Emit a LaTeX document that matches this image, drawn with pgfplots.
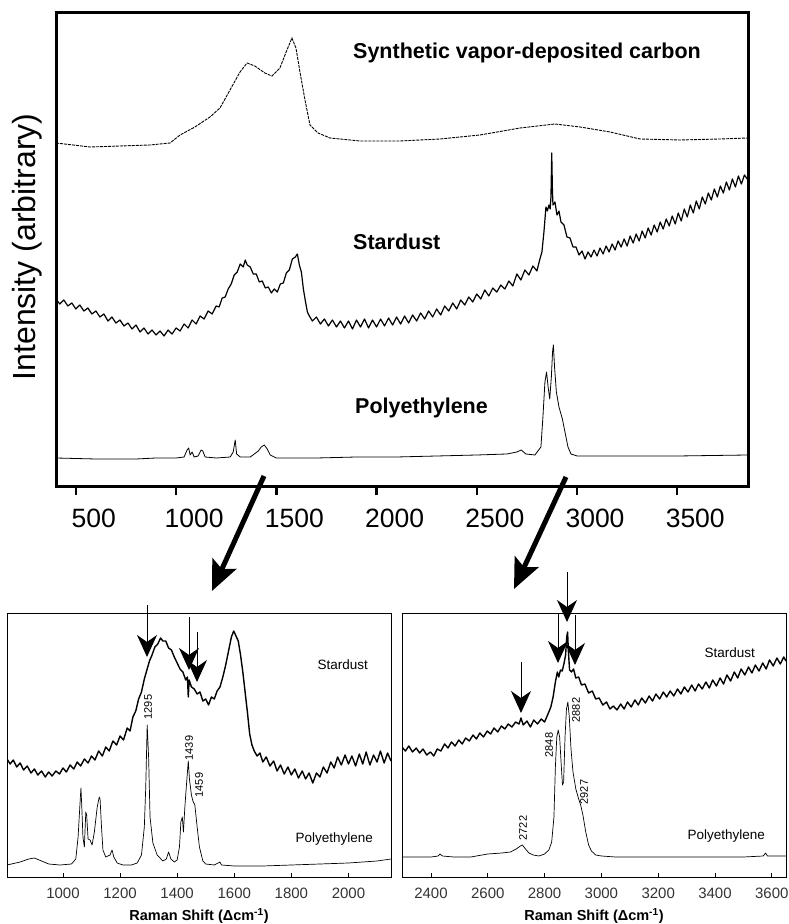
\documentclass[border=0pt]{standalone}
\usepackage{pgfplots}
\pgfplotsset{compat=1.18}
\usepackage{fontspec}
\setmainfont{Liberation Sans}
\usetikzlibrary{arrows.meta}
\begin{document}
\begin{tikzpicture}[x=1pt,y=1pt]
\path[use as bounding box] (0,0) rectangle (789,924);
% ---------------- top panel ----------------
\begin{axis}[
  at={(56pt,437pt)}, anchor=south west,
  scale only axis, width=692pt, height=474pt,
  xmin=401, xmax=3853, ymin=0, ymax=474,
  axis line style={line width=3pt},
  xtick={500,1000,...,3500}, ytick=\empty,
  xtick pos=left, tick align=outside, major tick length=8pt,
  xtick style={line width=2.5pt, black},
  xticklabel style={font=\fontsize{26.5}{30}\selectfont, inner sep=0pt, anchor=north, yshift=-14pt, xshift=18pt},
  /pgf/number format/assume math mode=true,
  /pgf/number format/1000 sep={},
]
% synthetic vapor-deposited carbon
\addplot[black, line width=0.9pt, dash pattern=on 3pt off 1pt, no marks] coordinates {
(401,344) (571,340) (720,341) (870,342) (970,344) (1020,352) (1094,360) (1169,370) (1219,379) (1269,397) (1319,415) (1354,424) (1393,421) (1443,414) (1478,411) (1518,419) (1553,437) (1578,449) (1598,439) (1618,415) (1643,387) (1668,362) (1708,354) (1768,349) (1918,346) (2117,346) (2317,348) (2516,352) (2716,359) (2890,363) (3015,360) (3165,355) (3314,348) (3514,347) (3713,348) (3853,349)};
% stardust
\addplot[black, line width=1.2pt, line join=round, no marks] coordinates {
(401,188) (420,183) (440,187) (460,181) (480,184) (500,178) (520,182) (540,176) (560,179) (580,173) (600,176) (620,170) (640,173) (660,166) (680,170) (700,164) (720,167) (740,161) (760,164) (780,158) (800,162) (820,155) (840,159) (860,153) (880,157) (900,152) (920,156) (940,151) (960,157) (980,153) (1000,159) (1020,156) (1040,163) (1060,159) (1080,167) (1100,163) (1120,171) (1140,168) (1160,176) (1180,173) (1200,181) (1215,180) (1230,189) (1245,190) (1260,198) (1275,203) (1290,212) (1305,215) (1320,223) (1335,220) (1345,227) (1355,222) (1370,220) (1385,213) (1400,213) (1415,205) (1430,206) (1445,199) (1460,200) (1475,194) (1490,198) (1505,195) (1520,203) (1535,204) (1550,214) (1565,217) (1580,228) (1595,230) (1605,233) (1615,222) (1625,215) (1635,198) (1645,186) (1655,175) (1665,171) (1680,166) (1700,170) (1720,163) (1740,168) (1760,161) (1780,167) (1800,160) (1820,166) (1840,159) (1860,166) (1880,158) (1900,167) (1920,160) (1940,168) (1960,159) (1980,167) (2000,160) (2020,168) (2040,161) (2060,169) (2080,162) (2100,170) (2120,163) (2140,171) (2160,164) (2180,172) (2200,166) (2220,174) (2240,168) (2260,176) (2280,170) (2300,178) (2320,172) (2340,181) (2360,176) (2380,184) (2400,178) (2420,187) (2440,182) (2460,190) (2480,185) (2500,193) (2520,188) (2540,197) (2560,191) (2580,199) (2600,195) (2620,202) (2640,198) (2660,206) (2680,201) (2700,213) (2720,207) (2740,217) (2760,212) (2780,221) (2800,216) (2815,228) (2825,235) (2835,255) (2845,280) (2852,276) (2860,282) (2866,278) (2870,290) (2874,334) (2877,300) (2880,282) (2890,285) (2900,272) (2910,276) (2920,265) (2935,262) (2950,250) (2965,249) (2980,240) (2995,240) (3010,232) (3025,236) (3040,228) (3055,235) (3070,230) (3085,237) (3100,231) (3115,239) (3130,233) (3145,241) (3160,235) (3175,243) (3190,237) (3205,246) (3220,240) (3235,248) (3250,241) (3265,251) (3280,244) (3295,253) (3310,246) (3325,256) (3340,249) (3355,259) (3370,252) (3385,262) (3400,255) (3415,265) (3430,258) (3445,268) (3460,261) (3475,271) (3490,263) (3505,274) (3520,266) (3535,278) (3550,270) (3565,282) (3580,274) (3595,286) (3610,278) (3625,290) (3640,283) (3655,294) (3670,287) (3685,298) (3700,290) (3715,301) (3730,294) (3745,305) (3760,297) (3775,308) (3790,300) (3805,311) (3820,303) (3835,312) (3853,307)};
% polyethylene
\addplot[black, line width=0.8pt, line join=round, no marks] coordinates {
(401,29) (600,28) (800,28) (900,29) (1000,29) (1040,30) (1055,37) (1063,39) (1070,32) (1080,35) (1090,30) (1110,31) (1125,37) (1133,36) (1145,30) (1200,29) (1270,30) (1285,35) (1295,47) (1302,33) (1320,30) (1370,30) (1390,33) (1410,36) (1425,40) (1440,42) (1455,38) (1470,32) (1500,29) (1700,29) (1900,30) (2100,30) (2300,31) (2500,32) (2650,33) (2700,35) (2722,37) (2745,33) (2790,32) (2820,40) (2830,70) (2840,105) (2848,115) (2856,100) (2864,88) (2872,110) (2878,135) (2882,142) (2888,120) (2897,95) (2910,80) (2927,68) (2940,55) (2955,40) (2970,33) (3000,31) (3200,31) (3500,31) (3853,32)};
\end{axis}
\node[rotate=90] at (27,677) {\fontsize{32}{36}\selectfont Intensity (arbitrary)};
\node[anchor=west, inner sep=0pt] at (353,871) {\fontsize{21.5}{25}\selectfont\bfseries Synthetic vapor-deposited carbon};
\node[anchor=west, inner sep=0pt] at (353,682) {\fontsize{21.5}{25}\selectfont\bfseries Stardust};
\node[anchor=west, inner sep=0pt] at (355,516) {\fontsize{21.5}{25}\selectfont\bfseries Polyethylene};
% big arrows
\draw[line width=5pt, -{Stealth[length=30pt,width=26pt,inset=6pt]}] (264,448) -- (212,333);
\draw[line width=5pt, -{Stealth[length=30pt,width=26pt,inset=6pt]}] (566,447) -- (514,335);
% ---------------- lower left ----------------
\begin{axis}[
  at={(7pt,47pt)}, anchor=south west,
  scale only axis, width=384pt, height=264pt,
  xmin=804, xmax=2149, ymin=0, ymax=264,
  axis line style={line width=0.9pt},
  xtick={1000,1200,...,2000}, ytick=\empty,
  xtick pos=left, tick align=inside, major tick length=4pt,
  xtick style={line width=0.8pt, black},
  xticklabel style={font=\fontsize{15}{18}\selectfont, inner sep=0pt, anchor=north, yshift=-10.5pt, text=black!80},
  /pgf/number format/assume math mode=true,
  /pgf/number format/1000 sep={},
]
\addplot[black, line width=1.4pt, line join=round, no marks] coordinates {
(804,118) (815,113) (826,117) (838,110) (850,114) (862,107) (875,111) (888,104) (900,108) (912,102) (925,106) (938,100) (950,105) (962,101) (975,106) (988,103) (1000,109) (1012,105) (1025,112) (1038,108) (1050,115) (1062,111) (1075,118) (1088,114) (1100,121) (1112,117) (1125,126) (1138,121) (1150,130) (1162,126) (1175,136) (1188,132) (1200,141) (1212,137) (1225,149) (1235,146) (1245,160) (1255,166) (1265,178) (1275,185) (1285,198) (1294,207) (1303,216) (1312,222) (1322,230) (1332,233) (1342,239) (1350,236) (1360,236) (1370,229) (1380,227) (1390,220) (1400,214) (1410,208) (1420,205) (1430,197) (1436,200) (1439,180) (1442,197) (1450,190) (1460,188) (1470,183) (1480,185) (1490,176) (1500,178) (1510,172) (1520,180) (1530,178) (1540,186) (1550,190) (1560,200) (1570,212) (1580,226) (1590,240) (1598,246) (1606,241) (1614,236) (1622,222) (1630,205) (1638,185) (1646,165) (1654,143) (1662,132) (1670,126) (1680,121) (1690,124) (1700,115) (1712,120) (1725,111) (1738,116) (1750,106) (1762,112) (1775,103) (1788,110) (1800,102) (1812,108) (1825,99) (1838,106) (1850,98) (1862,104) (1875,94) (1888,104) (1900,100) (1912,110) (1925,104) (1938,115) (1950,109) (1962,120) (1975,112) (1988,122) (2000,113) (2012,121) (2025,111) (2038,123) (2050,113) (2062,125) (2075,112) (2088,122) (2100,115) (2112,126) (2125,114) (2137,124) (2149,116)};
\addplot[black, line width=0.7pt, line join=round, no marks] coordinates {
(804,12) (850,15) (880,18) (900,19) (925,16) (950,13) (990,12) (1030,13) (1045,18) (1053,40) (1060,75) (1063,89) (1066,70) (1070,40) (1075,30) (1080,65) (1083,62) (1088,38) (1095,37) (1102,32) (1110,45) (1120,70) (1127,80) (1130,78) (1135,50) (1140,27) (1150,20) (1165,22) (1172,27) (1178,20) (1190,14) (1210,12) (1240,12) (1260,14) (1275,22) (1285,50) (1290,90) (1295,152) (1300,120) (1305,60) (1315,34) (1330,22) (1350,16) (1362,18) (1370,25) (1378,18) (1390,15) (1400,17) (1408,30) (1413,55) (1418,60) (1422,45) (1427,70) (1432,90) (1436,105) (1439,116) (1443,98) (1450,82) (1455,76) (1462,72) (1470,50) (1478,30) (1490,16) (1500,13) (1530,12) (1550,15) (1555,12) (1600,11) (1700,11) (1800,12) (1900,13) (2000,14) (2100,16) (2149,18)};
\end{axis}
% ---------------- lower right ----------------
\begin{axis}[
  at={(402pt,47pt)}, anchor=south west,
  scale only axis, width=384pt, height=264pt,
  xmin=2298, xmax=3650, ymin=0, ymax=264,
  axis line style={line width=0.9pt},
  xtick={2400,2600,...,3600}, ytick=\empty,
  xtick pos=left, tick align=inside, major tick length=4pt,
  xtick style={line width=0.8pt, black},
  xticklabel style={font=\fontsize{15}{18}\selectfont, inner sep=0pt, anchor=north, yshift=-10.5pt, text=black!80},
  /pgf/number format/assume math mode=true,
  /pgf/number format/1000 sep={},
]
\addplot[black, line width=1.4pt, line join=round, no marks] coordinates {
(2298,130) (2310,126) (2322,131) (2335,125) (2348,129) (2360,124) (2372,128) (2385,122) (2398,125) (2410,121) (2422,128) (2435,126) (2448,133) (2460,129) (2472,135) (2485,131) (2498,137) (2510,133) (2522,139) (2535,136) (2548,142) (2560,138) (2572,144) (2585,140) (2598,146) (2610,143) (2622,149) (2635,145) (2648,151) (2660,148) (2672,153) (2685,150) (2698,155) (2710,153) (2717,159) (2725,152) (2738,156) (2750,150) (2762,157) (2775,153) (2788,158) (2800,155) (2812,163) (2822,170) (2830,180) (2838,195) (2845,205) (2850,200) (2856,207) (2862,206) (2868,213) (2874,222) (2878,240) (2881,245) (2884,225) (2888,207) (2895,205) (2902,208) (2910,199) (2920,200) (2930,192) (2942,193) (2955,184) (2968,186) (2980,178) (2992,179) (3005,172) (3018,175) (3030,168) (3042,171) (3055,167) (3068,173) (3080,168) (3092,175) (3105,170) (3118,177) (3130,172) (3142,179) (3155,174) (3168,181) (3180,176) (3192,183) (3205,178) (3218,185) (3230,180) (3242,186) (3255,181) (3268,188) (3280,183) (3292,190) (3305,185) (3318,192) (3330,186) (3342,193) (3355,188) (3368,195) (3380,189) (3392,197) (3405,191) (3418,199) (3430,193) (3442,202) (3455,196) (3468,205) (3480,199) (3492,208) (3505,202) (3518,210) (3530,204) (3542,212) (3555,206) (3568,214) (3580,208) (3592,217) (3605,211) (3618,219) (3630,213) (3642,220) (3650,216)};
\addplot[black, line width=0.7pt, line join=round, no marks] coordinates {
(2298,20) (2350,20) (2400,20) (2425,21) (2432,23) (2440,21) (2480,20) (2540,20) (2560,21) (2600,23) (2650,24) (2680,25) (2700,28) (2715,31) (2722,32) (2730,29) (2745,24) (2760,22) (2780,21) (2800,23) (2815,27) (2825,35) (2833,60) (2838,110) (2843,140) (2848,147) (2853,140) (2858,115) (2863,92) (2867,95) (2872,140) (2877,168) (2882,175) (2887,160) (2893,128) (2900,105) (2910,88) (2920,78) (2927,72) (2935,62) (2945,45) (2955,32) (2965,26) (2980,22) (3000,21) (3050,20) (3100,20) (3200,20) (3300,20) (3400,20) (3500,20) (3570,21) (3578,24) (3585,21) (3650,21)};
\end{axis}
% lower panel texts
\node[anchor=east, inner sep=0pt] at (368,259) {\fontsize{13.5}{16}\selectfont Stardust};
\node[anchor=east, inner sep=0pt] at (373,85) {\fontsize{13.5}{16}\selectfont Polyethylene};
\node[anchor=east, inner sep=0pt] at (755,271) {\fontsize{13.5}{16}\selectfont Stardust};
\node[anchor=east, inner sep=0pt] at (765,88) {\fontsize{13.5}{16}\selectfont Polyethylene};
\node[rotate=90, inner sep=0pt] at (148,217) {\fontsize{11}{13}\selectfont 1295};
\node[rotate=90, inner sep=0pt] at (189,176) {\fontsize{11}{13}\selectfont 1439};
\node[rotate=90, inner sep=0pt] at (199,139) {\fontsize{11}{13}\selectfont 1459};
\node[rotate=90, inner sep=0pt] at (549,179) {\fontsize{11}{13}\selectfont 2848};
\node[rotate=90, inner sep=0pt] at (576,214) {\fontsize{11}{13}\selectfont 2882};
\node[rotate=90, inner sep=0pt] at (584,132) {\fontsize{11}{13}\selectfont 2927};
\node[rotate=90, inner sep=0pt] at (523,96) {\fontsize{11}{13}\selectfont 2722};
\node at (199,8) {\fontsize{14.5}{17}\selectfont\bfseries Raman Shift (Δcm\textsuperscript{-1})};
\node at (594,8) {\fontsize{14.5}{17}\selectfont\bfseries Raman Shift (Δcm\textsuperscript{-1})};
% small arrows
\begin{scope}[line width=1pt, -{Stealth[length=22pt,width=20pt,inset=7pt]}]
\draw (147,319) -- (147,267);
\draw (189,307) -- (189,254);
\draw (197,292) -- (197,242);
\draw (521,262) -- (521,211);
\draw (558,311) -- (558,261);
\draw (567,352) -- (567,302);
\draw (575,309) -- (575,259);
\end{scope}
\end{tikzpicture}
\end{document}
